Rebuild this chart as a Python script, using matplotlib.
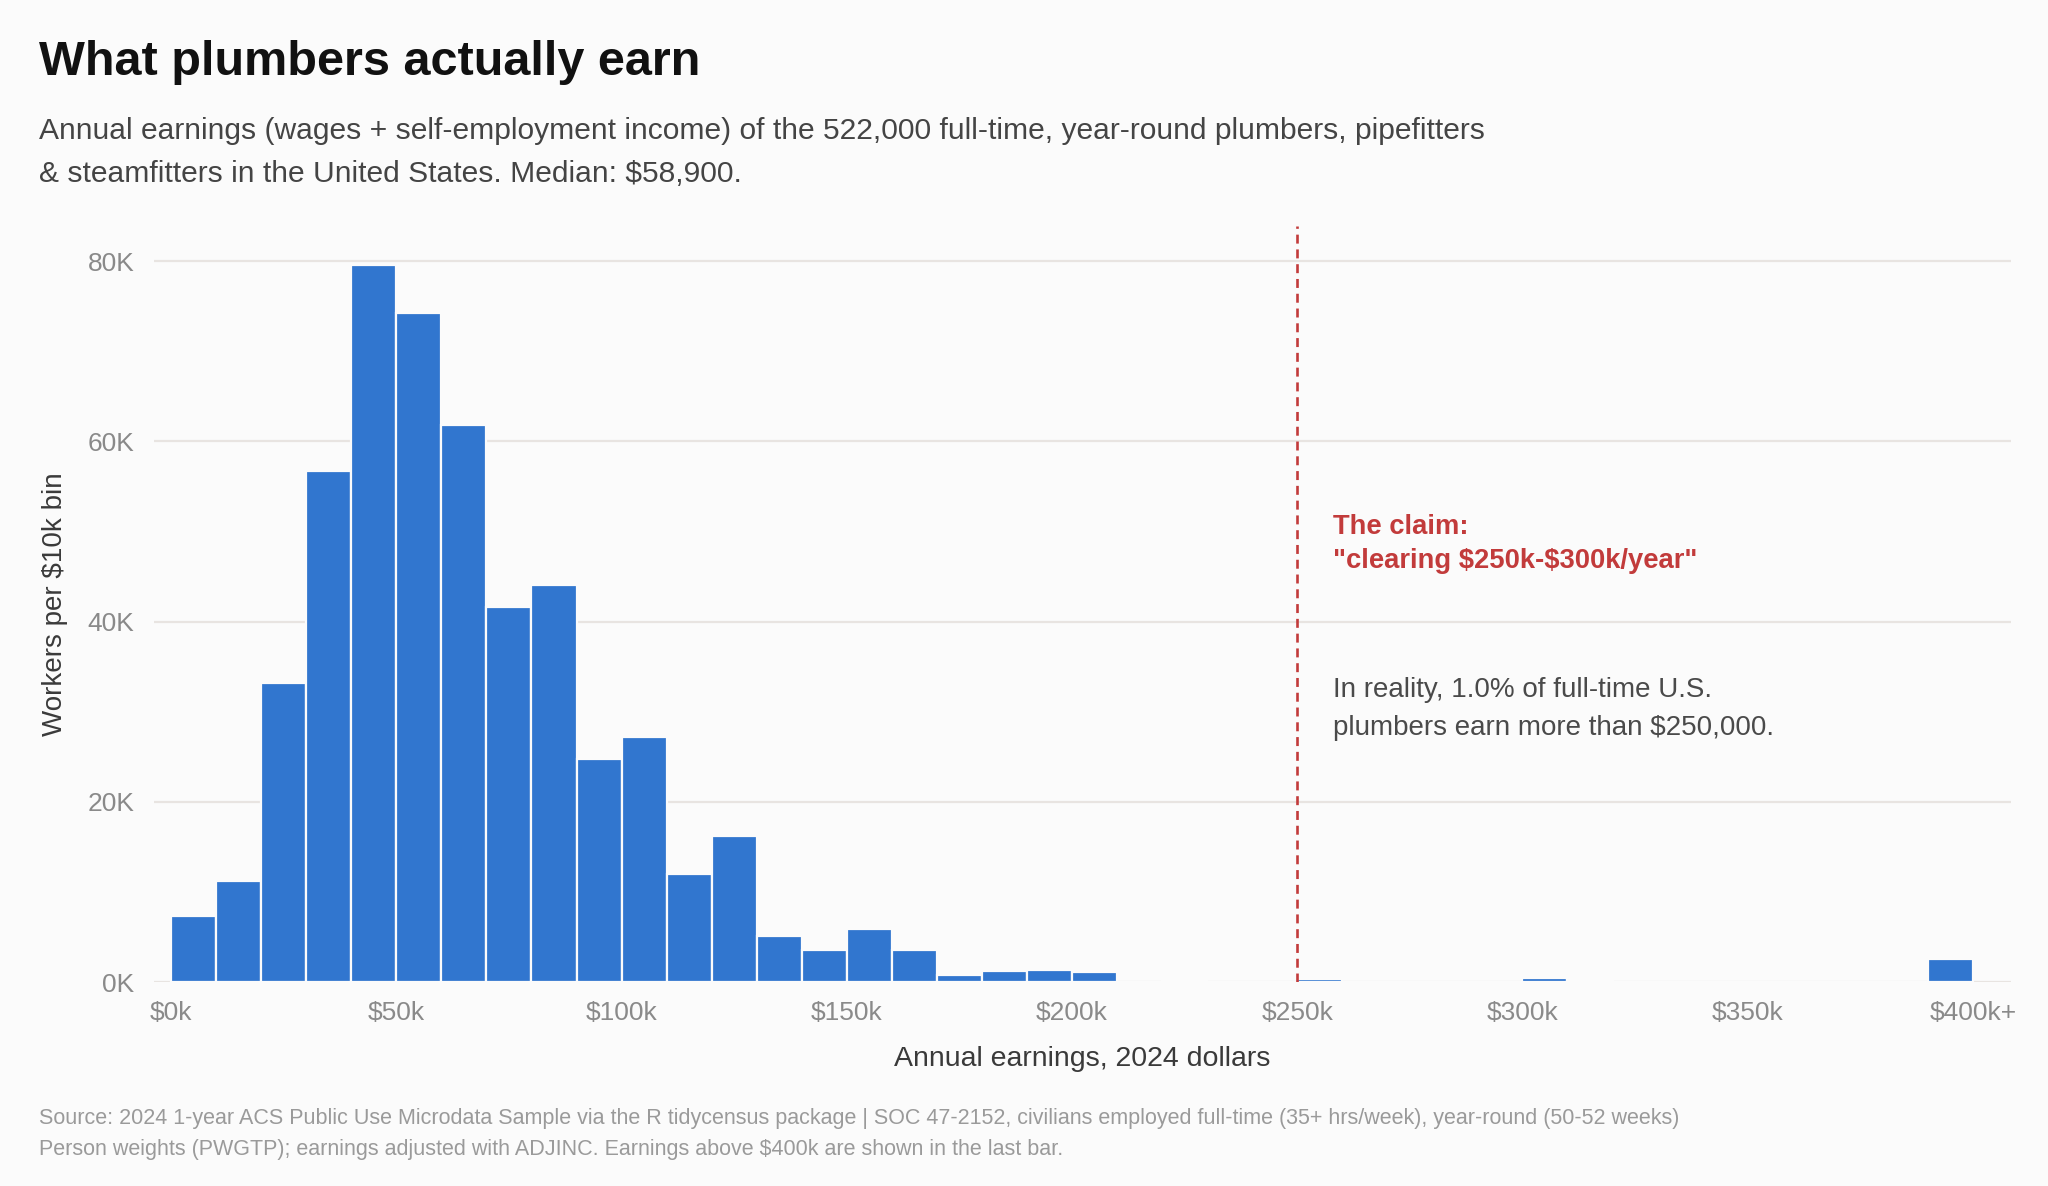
import numpy as np
import matplotlib.pyplot as plt
from matplotlib.ticker import FuncFormatter

# Earnings histogram, $10k bins (left edge, in $k). Last bin holds everything above $400k
bin_left = list(range(0, 400, 10))
workers = [7300, 11200, 33200, 56700, 79600, 74300, 61800, 41600, 44100, 24700,
           27200, 12000, 16200, 5100, 3600, 5900, 3500, 750, 1250, 1350,
           1150, 0, 120, 0, 0, 300, 0, 0, 0, 0,
           400, 250, 0, 0, 0, 0, 0, 0, 0, 2600]

x_ticks = [0, 50, 100, 150, 200, 250, 300, 350, 400]
x_labels = ["$0k", "$50k", "$100k", "$150k", "$200k", "$250k", "$300k", "$350k", "$400k+"]
y_ticks = [0, 20000, 40000, 60000, 80000]
claim_line = 250

bg = "#fbfbfb"
blue = "#3176cf"
red = "#c23b3b"

plt.rcParams['font.family'] = ['Liberation Sans', 'DejaVu Sans']
plt.rcParams['text.parse_math'] = False

fig = plt.figure(figsize=(20.48, 11.86), dpi=100, facecolor=bg)
ax = fig.add_axes([0.0752, 0.172, 0.9068, 0.6374], facecolor=bg)

ax.bar(bin_left, workers, width=10, align='edge', color=blue,
       edgecolor=bg, linewidth=1.6, zorder=3)

ax.axvline(claim_line, color=red, linewidth=1.9, linestyle=(0, (3.4, 2.2)), zorder=4)

ax.set_xlim(-3.8, 408.5)
ax.set_ylim(0, 83900)
ax.set_xticks(x_ticks)
ax.set_xticklabels(x_labels)
ax.set_yticks(y_ticks)
ax.yaxis.set_major_formatter(FuncFormatter(lambda v, p: f"{int(v/1000)}K"))
ax.tick_params(axis='both', length=0, labelsize=19, labelcolor="#8a8a8a")
ax.tick_params(axis='x', pad=14)
ax.tick_params(axis='y', pad=14)
ax.grid(axis='y', color="#e8e4e1", linewidth=1.6, zorder=0)
for s in ax.spines.values():
    s.set_visible(False)

ax.set_xlabel("Annual earnings, 2024 dollars", fontsize=20.5, color="#3a3a3a", labelpad=15)
ax.set_ylabel("Workers per $10k bin", fontsize=20, color="#3a3a3a", labelpad=14)

# annotations
ax.text(claim_line + 8, 51900, 'The claim:\n"clearing $250k-$300k/year"', fontsize=19.7,
        fontweight='bold', color=red, va='top', ha='left', linespacing=1.4)
ax.text(claim_line + 8, 33800, "In reality, 1.0% of full-time U.S.\nplumbers earn more than $250,000.",
        fontsize=20, color="#4a4a4a", va='top', ha='left', linespacing=1.58)

# titles and notes
fig.text(0.019, 0.966, "What plumbers actually earn", fontsize=35, fontweight='bold',
         color="#111111", va='top', ha='left')
fig.text(0.019, 0.9015, "Annual earnings (wages + self-employment income) of the 522,000 full-time, "
         "year-round plumbers, pipefitters\n& steamfitters in the United States. Median: $58,900.",
         fontsize=21.6, color="#444444", va='top', ha='left', linespacing=1.7)
fig.text(0.019, 0.066, "Source: 2024 1-year ACS Public Use Microdata Sample via the R tidycensus package | "
         "SOC 47-2152, civilians employed full-time (35+ hrs/week), year-round (50-52 weeks)\n"
         "Person weights (PWGTP); earnings adjusted with ADJINC. Earnings above $400k are shown in the last bar.",
         fontsize=15.5, color="#9a9a9a", va='top', ha='left', linespacing=1.65)

fig.savefig("out.png", dpi=100, facecolor=bg)
